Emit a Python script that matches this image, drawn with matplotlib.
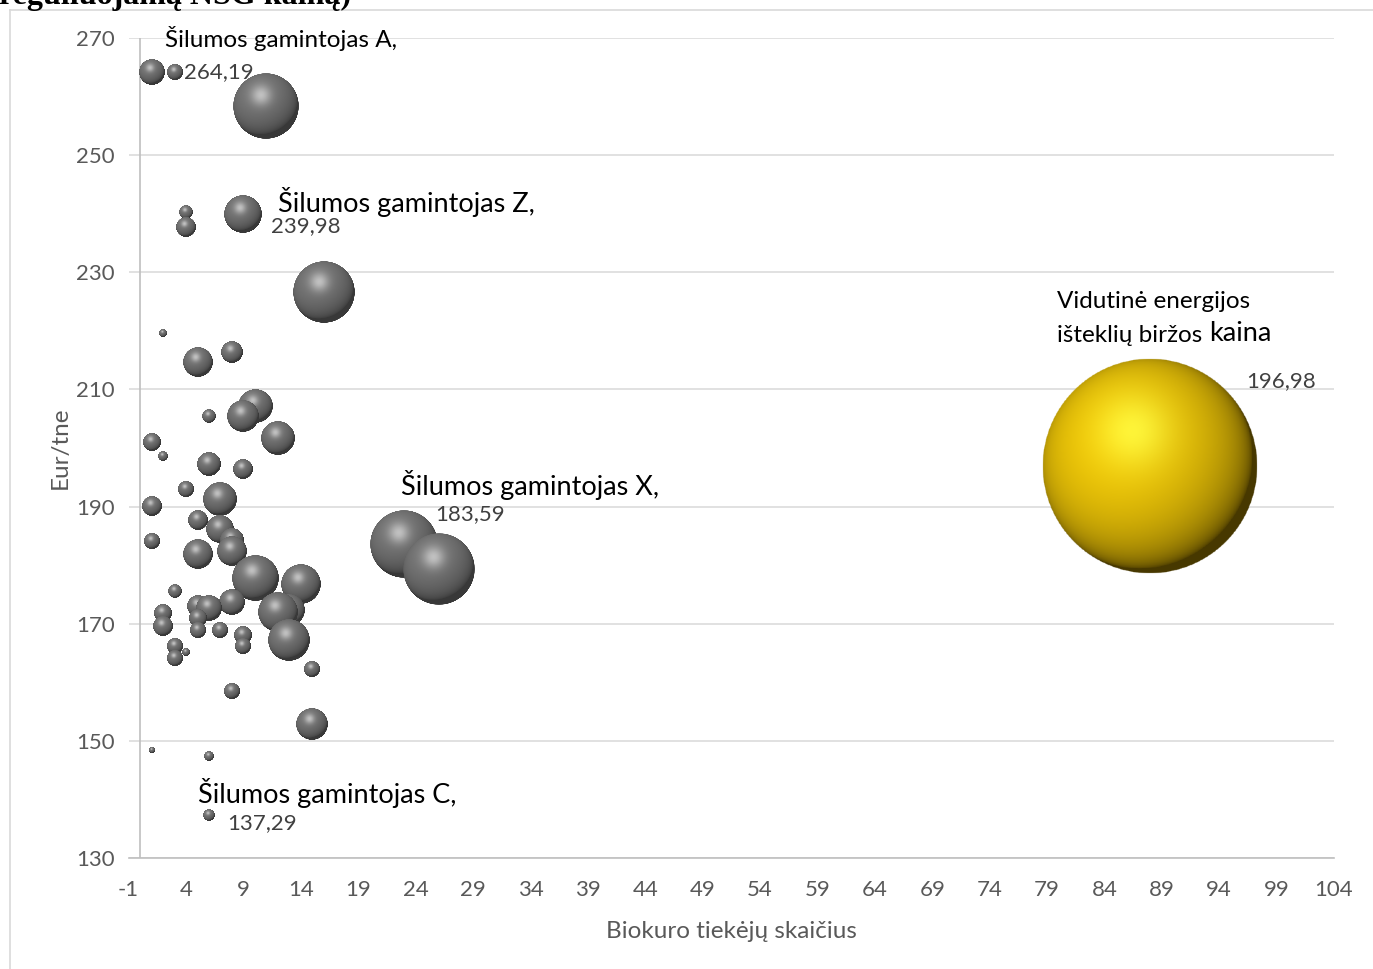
import numpy as np
import matplotlib
matplotlib.use("Agg")
import matplotlib.pyplot as plt
from matplotlib.lines import Line2D
from matplotlib.offsetbox import OffsetImage, AnnotationBbox

plt.rcParams["axes.unicode_minus"] = False

# biokuro tiekeju skaicius, kaina Eur/tne, burbulo dydis (santykinis)
tiekeju_sk = [1, 3, 11, 4, 4, 9, 16, 2, 5, 8, 10, 9, 6, 12, 1, 2, 6, 9, 4, 7,
              1, 5, 7, 1, 8, 5, 8, 10, 14, 3, 23, 26, 2, 2, 6, 5, 8, 5, 5, 7,
              9, 9, 13, 12, 13, 3, 3, 4, 15, 8, 15, 1, 6, 6]
kaina = [264.2, 264.19, 258.4, 240.3, 237.7, 239.98, 226.6, 219.6, 214.7, 216.4,
         207.2, 205.5, 205.5, 201.7, 201.0, 198.6, 197.3, 196.4, 193.0, 191.3,
         190.1, 187.7, 186.2, 184.1, 184.3, 181.9, 182.4, 177.8, 176.8, 175.6,
         183.59, 179.3, 171.8, 169.6, 172.7, 173.0, 173.7, 171.0, 168.9, 169.0,
         168.0, 166.2, 172.3, 172.0, 167.2, 166.2, 164.1, 165.2, 162.3, 158.5,
         152.9, 148.4, 147.4, 137.29]
dydis = [1.69, 0.64, 10.89, 0.49, 1.0, 3.61, 9.61, 0.16, 2.25, 1.21,
         2.89, 2.56, 0.49, 2.89, 0.81, 0.25, 1.44, 1.0, 0.64, 2.89,
         1.0, 1.0, 1.96, 0.64, 1.44, 2.25, 2.25, 5.29, 4.0, 0.49,
         11.56, 12.96, 0.81, 1.0, 1.69, 1.21, 1.69, 0.81, 0.64, 0.64,
         0.81, 0.64, 2.56, 4.0, 4.41, 0.64, 0.64, 0.16, 0.64, 0.64,
         2.56, 0.09, 0.25, 0.36]

# energijos isteklu birzos vidurkis
birza_x = 88
birza_y = 196.98
birza_dydis = 116.64

# pazymeti gamintojai: indeksas sarase -> pavadinimas
pazymeti = {1: "Šilumos gamintojas A,", 5: "Šilumos gamintojas Z,",
            30: "Šilumos gamintojas X,", 53: "Šilumos gamintojas C,"}

x_ticks = list(range(-1, 105, 5))
y_ticks = list(range(130, 271, 20))

FONT = "Lato"
GREY_TXT = "#595959"


def sphere(base, light, dark, L, spec_w=0.09, n=300):
    # paprastas 3D rutulio seselis
    yy, xx = np.mgrid[-1:1:n * 1j, -1:1:n * 1j]
    rr = np.sqrt(xx ** 2 + yy ** 2)
    z = np.sqrt(np.clip(1 - rr ** 2, 0, 1))
    L = np.array(L) / np.linalg.norm(L)
    diff = np.clip(xx * L[0] - yy * L[1] + z * L[2], 0, 1)
    spec = np.exp(-((xx + 0.15) ** 2 + (yy + 0.33) ** 2) / spec_w)
    base, light, dark = np.array(base), np.array(light), np.array(dark)
    rgb = dark + (base - dark) * diff[..., None] ** 0.6 + (light - base) * spec[..., None]
    rgb = np.clip(rgb, 0, 1)
    alpha = np.clip((1 - rr) * n / 2.5, 0, 1)
    return np.dstack([rgb, alpha])


grey_ball = sphere((0.47, 0.47, 0.47), (0.76, 0.76, 0.76), (0.22, 0.22, 0.22), (-0.3, 0.5, 0.8))
gold_ball = sphere((0.96, 0.80, 0.03), (1.0, 0.96, 0.22), (0.28, 0.22, 0.0), (-0.3, 0.3, 0.9), 0.12)

fig = plt.figure(figsize=(13.73, 9.69), dpi=100)
ax = fig.add_axes([0.0937, 0.1146, 0.8779, 0.8462])
ax.set_xlim(-1, 104)
ax.set_ylim(130, 270)
ax.set_xticks(x_ticks)
ax.set_yticks(y_ticks)
ax.tick_params(length=0, labelsize=16, labelcolor=GREY_TXT)
ax.tick_params(axis="x", pad=16)
ax.tick_params(axis="y", pad=10)
for lab in ax.get_xticklabels() + ax.get_yticklabels():
    lab.set_family(FONT)
ax.grid(axis="y", color="#d9d9d9", lw=1.1)
ax.set_axisbelow(True)
for s in ["top", "right", "left"]:
    ax.spines[s].set_visible(False)
ax.spines["bottom"].set_color("#bfbfbf")
ax.spines["bottom"].set_linewidth(1.2)
ax.axvline(0, color="#bfbfbf", lw=1.2, zorder=1)

ax.set_xlabel("Biokuro tiekėjų skaičius", family=FONT, fontsize=17.5, color=GREY_TXT, labelpad=15)
ax.set_ylabel("Eur/tne", family=FONT, fontsize=17.5, color=GREY_TXT, labelpad=4)


def bubble(x, y, size, img, z):
    d = 2 * 10 * np.sqrt(size)   # skersmuo pikseliais
    oi = OffsetImage(img, zoom=d / img.shape[0], dpi_cor=False, interpolation="antialiased")
    ab = AnnotationBbox(oi, (x, y), xycoords="data", frameon=False, pad=0,
                        box_alignment=(0.5, 0.5), annotation_clip=False)
    ab.set_zorder(z)
    ax.add_artist(ab)


order = np.argsort(-np.array(kaina))
for rank, i in enumerate(order):
    bubble(tiekeju_sk[i], kaina[i], dydis[i], grey_ball, 3 + rank * 0.01)
bubble(birza_x, birza_y, birza_dydis, gold_ball, 5)

# etikeciu poslinkiai (px): pavadinimas, reiksme, sriftas
label_pos = {1: ((-10, 34), (9, 0), 17.5),
             5: ((35, 12), (28, -12), 19.5),
             30: ((-3, 59), (31, 30), 19.5),
             53: ((-11, 22), (18, -8), 19.5)}
k = 0.72
for i, name in pazymeti.items():
    (nx, ny), (vx, vy), fs = label_pos[i]
    ax.annotate(name, (tiekeju_sk[i], kaina[i]), xytext=(nx * k, ny * k),
                textcoords="offset points", ha="left", va="center",
                family=FONT, fontsize=fs, color="black", zorder=10)
    ax.annotate(f"{kaina[i]:.2f}".replace(".", ","), (tiekeju_sk[i], kaina[i]),
                xytext=(vx * k, vy * k), textcoords="offset points", ha="left",
                va="center", family=FONT, fontsize=16, color="#404040", zorder=10)

ax.annotate("Vidutinė energijos", (birza_x, birza_y), xytext=(-93 * k, 164 * k),
            textcoords="offset points", ha="left", va="center", family=FONT,
            fontsize=17.5, color="black", zorder=10)
t2 = ax.annotate("išteklių biržos", (birza_x, birza_y), xytext=(-93 * k, 130 * k),
                 textcoords="offset points", ha="left", va="center", family=FONT,
                 fontsize=17.5, color="black", zorder=10)
ax.annotate("kaina", (1, 0), xycoords=t2, xytext=(5, 0), textcoords="offset points",
            ha="left", va="bottom", family=FONT, fontsize=19.5, color="black", zorder=10)
ax.annotate(f"{birza_y:.2f}".replace(".", ","), (birza_x, birza_y), xytext=(96 * k, 85 * k),
            textcoords="offset points", ha="left", va="center", family=FONT,
            fontsize=16, color="#404040", zorder=10)

# diagramos remelis ir nukirptas pavadinimas
W, H = 1373, 969
fig.add_artist(Line2D([9.5 / W, 9.5 / W], [0, 1 - 10 / H], color="#d9d9d9", lw=1.2))
fig.add_artist(Line2D([9.5 / W, 1], [1 - 10 / H, 1 - 10 / H], color="#d9d9d9", lw=1.2))
fig.text(-0.001, 1 - 4 / H, "reguliuojamą NŠG kainą)", family="Liberation Serif",
         weight="bold", fontsize=23, va="baseline", ha="left")

fig.savefig("out.png", dpi=100)
